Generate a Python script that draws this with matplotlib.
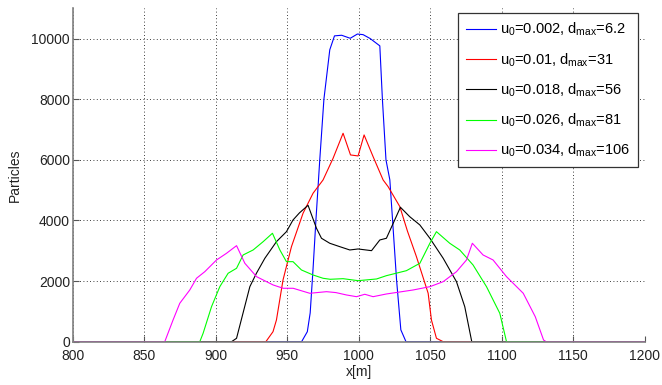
import matplotlib
matplotlib.use("Agg")
import matplotlib.pyplot as plt

plt.rcParams['font.family'] = ['Liberation Sans', 'DejaVu Sans']
plt.rcParams['mathtext.default'] = 'regular'

# series: x[m] and particle counts
x1 = [800, 955, 960, 964, 966, 968, 970, 972.7, 975.6, 979.7, 983, 988, 994, 999, 1003, 1008, 1014.7, 1016.5, 1019, 1021.7, 1023.6, 1026.4, 1029.4, 1033, 1200]
y1 = [0, 0, 0, 330, 950, 2400, 4000, 6000, 8000, 9630, 10090, 10110, 10010, 10150, 10130, 10000, 9760, 8000, 6000, 5340, 4020, 2040, 390, 0, 0]

x2 = [800, 935, 940, 942.4, 947, 952.9, 961, 968, 975, 982, 989, 994.2, 999.5, 1003.7, 1010, 1017, 1020.5, 1028.7, 1034, 1040.3, 1048.5, 1050.8, 1054.3, 1059, 1200]
y2 = [0, 0, 330, 716, 2036, 3135, 4237, 4897, 5336, 6050, 6877, 6161, 6128, 6821, 6105, 5336, 5115, 4455, 3650, 2805, 1597, 716, 112, 0, 0]

x3 = [800, 911, 914.5, 919, 923.8, 928.4, 934.3, 942.4, 949.4, 954, 958.5, 964.5, 970.4, 973.9, 979.7, 986.7, 993.7, 999.5, 1008.9, 1014.7, 1019.3, 1024, 1029.1, 1035.6, 1042.7, 1049.7, 1059, 1068.3, 1074.1, 1079, 1200]
y3 = [0, 0, 112, 937, 1815, 2257, 2752, 3300, 3630, 4016, 4250, 4500, 3742, 3412, 3247, 3135, 3026, 3059, 3003, 3356, 3412, 3900, 4435, 4125, 3851, 3412, 2752, 1980, 1155, 0, 0]

x4 = [800, 888.8, 891.1, 897, 902.8, 908.6, 914.5, 919.1, 926.1, 933.1, 939.6, 944.8, 949.4, 954, 959.9, 968, 975, 980, 989, 999.5, 1012.4, 1019.3, 1033.3, 1042.7, 1049.7, 1054.3, 1063.6, 1070.6, 1079.9, 1089.3, 1098.6, 1103.3, 1200]
y4 = [0, 0, 275, 1155, 1815, 2257, 2422, 2861, 3026, 3300, 3577, 3026, 2640, 2640, 2366, 2201, 2092, 2059, 2079, 2013, 2069, 2178, 2343, 2587, 3247, 3630, 3247, 3026, 2531, 1815, 937, 0, 0]

x5 = [800, 864.3, 870.1, 874.8, 881.8, 886.5, 892.3, 900.5, 907.5, 914.5, 920.3, 928.5, 940.1, 947.1, 954.1, 965.7, 977.4, 984, 991.4, 998.4, 1004.2, 1010, 1019.3, 1038, 1049.7, 1059, 1068.3, 1075.3, 1079.4, 1086.9, 1093.9, 1103.3, 1115, 1123.4, 1129.2, 1131, 1200]
y5 = [0, 0, 716, 1267, 1706, 2092, 2310, 2696, 2917, 3168, 2587, 2145, 1871, 1762, 1762, 1597, 1650, 1620, 1541, 1485, 1564, 1485, 1574, 1706, 1815, 1980, 2310, 2696, 3247, 2861, 2696, 2145, 1597, 825, 56, 0, 0]

labels = ['u$_0$=0.002, d$_{max}$=6.2', 'u$_0$=0.01, d$_{max}$=31',
          'u$_0$=0.018, d$_{max}$=56', 'u$_0$=0.026, d$_{max}$=81',
          'u$_0$=0.034, d$_{max}$=106']
colors = ['#0000ff', '#ff0000', '#000000', '#00ff00', '#ff00ff']
xs = [x1, x2, x3, x4, x5]
ys = [y1, y2, y3, y4, y5]

fig = plt.figure(figsize=(6.62, 3.85), dpi=100)
ax = fig.add_axes([0.110, 0.1125, 0.864, 0.866])

for x, y, c, lab in zip(xs, ys, colors, labels):
    ax.plot(x, y, color=c, lw=0.8, label=lab)

ax.set_xlim(800, 1200)
ax.set_ylim(0, 11000)
ax.set_xticks(range(800, 1201, 50))
ax.set_yticks(range(0, 10001, 2000))
ax.grid(True, linestyle=(0, (1, 3)), color='black', lw=0.6)
ax.tick_params(direction='in', length=4, labelsize=10, labelcolor='#222222', color='#555555')
ax.tick_params(axis='x', pad=5)
ax.tick_params(axis='y', pad=2)
for s in ['top', 'right']:
    ax.spines[s].set_visible(False)
for s in ['left', 'bottom']:
    ax.spines[s].set_color('#808080')
    ax.spines[s].set_linewidth(1.2)
ax.set_xlabel('x[m]', fontsize=10, color='#222222', labelpad=2)
ax.set_ylabel('Particles', fontsize=10, color='#222222', labelpad=7)

leg = ax.legend(loc='upper right', bbox_to_anchor=(0.988, 0.986), borderaxespad=0,
                fontsize=10.5, fancybox=False, framealpha=1, edgecolor='#333333',
                handlelength=2.0, borderpad=0.55, labelspacing=0.88, handletextpad=0.3)
leg.get_frame().set_linewidth(0.9)

fig.savefig('out.png', dpi=100)
